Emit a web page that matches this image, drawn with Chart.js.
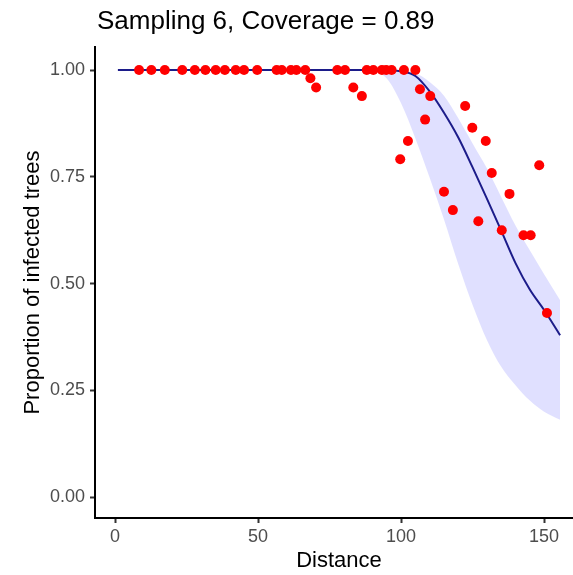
<!DOCTYPE html>
<html lang="en">
<head>
<meta charset="UTF-8">
<title>Sampling 6</title>
<script src="https://cdn.jsdelivr.net/npm/chart.js"></script>
<style>
  html, body { margin: 0; padding: 0; background: #fff; }
  #wrap { position: relative; width: 573px; height: 575px; }
</style>
</head>
<body>
<div id="wrap"><canvas id="grafico"></canvas></div>
<script>
// observed points (distance, proportion)
const pointX = [8.4, 12.7, 17.4, 23.5, 27.9, 31.6, 35.2, 38.4, 42.2, 45.1, 49.7, 56.5, 58.3, 61.5, 63.4, 66.5,
  77.7, 80.4, 88.0, 90.3, 93.3, 94.8, 96.7, 101.0, 105.0,
  68.3, 70.3, 83.3, 86.3, 106.6, 110.2, 122.4, 108.4, 124.9, 102.4, 129.6, 99.7, 131.7, 148.3,
  115.0, 137.9, 118.1, 127.0, 135.2, 142.8, 145.3, 151.0];
const pointY = [1, 1, 1, 1, 1, 1, 1, 1, 1, 1, 1, 1, 1, 1, 1, 1,
  1, 1, 1, 1, 1, 1, 1, 1, 1,
  0.981, 0.959, 0.959, 0.939, 0.955, 0.939, 0.916, 0.884, 0.865, 0.834, 0.834, 0.791, 0.759, 0.777,
  0.715, 0.710, 0.672, 0.646, 0.625, 0.613, 0.613, 0.431];

// fitted curve and its band
const fitX = [1, 20, 40, 60, 80, 90, 95, 100, 105, 110, 115, 120, 125, 130, 135, 140, 145, 150, 155.6];
const fitY = [1, 1, 1, 1, 1, 1, 0.999, 0.997, 0.986, 0.950, 0.900, 0.842, 0.772, 0.699, 0.624, 0.548, 0.486, 0.438, 0.379];
const upperY = [1, 1, 1, 1, 1, 1, 1, 0.999, 0.993, 0.972, 0.940, 0.887, 0.828, 0.770, 0.703, 0.636, 0.578, 0.522, 0.461];
const lowerY = [1, 1, 1, 1, 1, 0.997, 0.980, 0.922, 0.840, 0.748, 0.650, 0.545, 0.450, 0.368, 0.305, 0.262, 0.226, 0.200, 0.181];

const yTicks = [0, 0.25, 0.5, 0.75, 1];
const xTicks = [0, 50, 100, 150];

const pts = pointX.map((x, i) => ({ x, y: pointY[i] }));
const toXY = ys => fitX.map((x, i) => ({ x, y: ys[i] }));

const FAM = '"Liberation Sans", Arial, sans-serif';

// plot title sits on the left edge of the panel, x title is centred on the (cropped) panel
const textPlugin = {
  id: 'textos',
  afterDraw(chart) {
    const c = chart.ctx;
    c.save();
    c.fillStyle = '#000';
    c.textBaseline = 'alphabetic';
    c.textAlign = 'left';
    c.font = '26px ' + FAM;
    c.fillText('Sampling 6, Coverage = 0.89', 97, 29);
    c.textAlign = 'center';
    c.textBaseline = 'middle';
    c.font = '22px ' + FAM;
    c.fillText('Distance', 339, 561);
    c.restore();
  }
};

const fontTick = { family: FAM, size: 18 };
const fontTitle = { family: FAM, size: 22 };

new Chart(document.getElementById('grafico'), {
  type: 'scatter',
  data: {
    datasets: [
      { data: pts, backgroundColor: '#ff0000', borderWidth: 0, pointRadius: 5, pointHoverRadius: 5 },
      { type: 'line', data: toXY(fitY), borderColor: '#1c1c8a', borderWidth: 2, pointRadius: 0, fill: false, cubicInterpolationMode: 'monotone' },
      { type: 'line', data: toXY(upperY), borderWidth: 0, pointRadius: 0, backgroundColor: 'rgba(0,0,255,0.12)', fill: 3, cubicInterpolationMode: 'monotone' },
      { type: 'line', data: toXY(lowerY), borderWidth: 0, pointRadius: 0, fill: false, cubicInterpolationMode: 'monotone' }
    ]
  },
  options: {
    responsive: true,
    maintainAspectRatio: false,
    animation: false,
    layout: { autoPadding: false, padding: { top: 47, right: 0, left: 0, bottom: 0 } },
    plugins: { legend: { display: false }, tooltip: { enabled: false } },
    scales: {
      x: {
        type: 'linear', min: -7.0, max: 160.1,
        afterBuildTicks: s => { s.ticks = xTicks.map(v => ({ value: v })); },
        afterFit: s => { s.height = 57; s.paddingLeft = 0; s.paddingRight = 0; },
        grid: { display: true, drawOnChartArea: false, drawTicks: true, tickLength: 5, tickWidth: 2, tickColor: '#333' },
        border: { display: true, color: '#000', width: 2 },
        ticks: { color: '#4d4d4d', font: fontTick, padding: 3 }
      },
      y: {
        min: -0.049, max: 1.054,
        afterBuildTicks: s => { s.ticks = yTicks.map(v => ({ value: v })); },
        afterFit: s => { s.width = 95; s.paddingTop = 0; s.paddingBottom = 0; },
        grid: { display: true, drawOnChartArea: false, drawTicks: true, tickLength: 5, tickWidth: 2, tickColor: '#333' },
        border: { display: true, color: '#000', width: 2 },
        ticks: { color: '#4d4d4d', font: fontTick, padding: 5, callback: v => v.toFixed(2) },
        title: { display: true, text: 'Proportion of infected trees', color: '#000', font: fontTitle, padding: { top: 20, bottom: 0 } }
      }
    }
  },
  plugins: [textPlugin]
});
</script>
</body>
</html>
